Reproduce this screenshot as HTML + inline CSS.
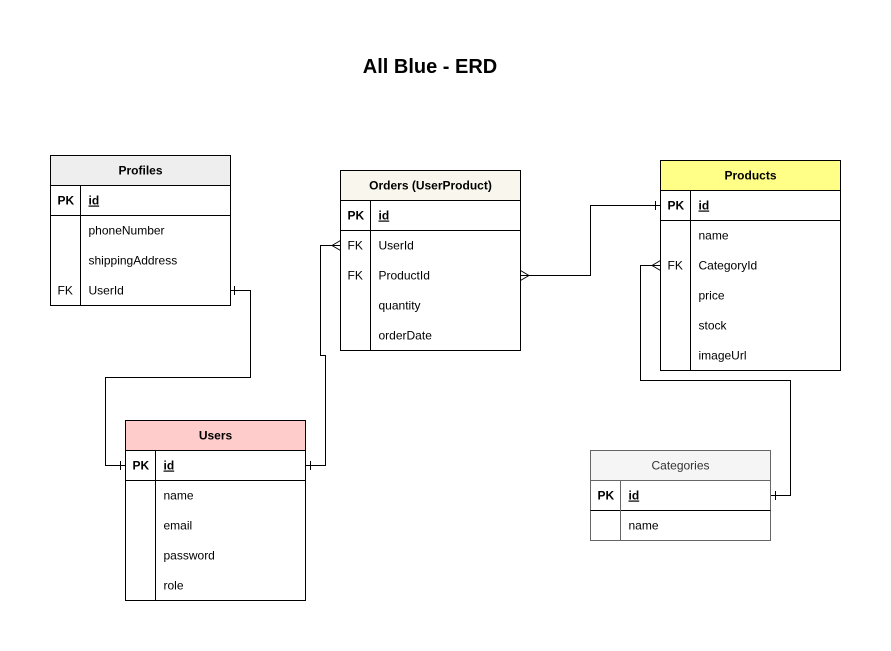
<!DOCTYPE html>
<html><head><meta charset="utf-8"><style>
html,body{margin:0;padding:0;background:#fff;}
svg{display:block;font-family:"Liberation Sans",Arial,sans-serif;}
text{font-size:12px;fill:#000;}
.b{font-weight:bold;}
</style></head><body>
<svg width="891" height="651" viewBox="0 0 891 651">
<rect width="891" height="651" fill="#fff"/>
<text x="430" y="73" text-anchor="middle" class="b" style="font-size:20px">All Blue - ERD</text>

<g stroke="#000" fill="none" stroke-width="1">
<!-- connectors -->
<polyline points="230.5,290.5 250.5,290.5 250.5,377.5 105.5,377.5 105.5,465.5 125.5,465.5"/>
<line x1="234.5" y1="286" x2="234.5" y2="295"/>
<line x1="120.5" y1="461" x2="120.5" y2="470"/>
<polyline points="305.5,465.5 325.5,465.5 325.5,355.5 320.5,355.5 320.5,245.5 340.5,245.5"/>
<line x1="310.5" y1="461" x2="310.5" y2="470"/>
<polyline points="332,245.5 340.5,240.5"/><polyline points="332,245.5 340.5,250.5"/>
<polyline points="520.5,275.5 590.5,275.5 590.5,205.5 660.5,205.5"/>
<polyline points="529,275.5 520.5,270.5"/><polyline points="529,275.5 520.5,280.5"/>
<line x1="655.5" y1="201" x2="655.5" y2="210"/>
<polyline points="660.5,265.5 640.5,265.5 640.5,380.5 790.5,380.5 790.5,495.5 770.5,495.5"/>
<polyline points="652,265.5 660.5,260.5"/><polyline points="652,265.5 660.5,270.5"/>
<line x1="775.5" y1="491" x2="775.5" y2="500"/>
</g>

<!-- Profiles -->
<g transform="translate(50.5,155.5)">
<rect width="180" height="150" fill="#fff" stroke="#000"/>
<rect width="180" height="30" fill="#eeeeee" stroke="#000"/>
<line x1="0" y1="60" x2="180" y2="60" stroke="#000"/>
<line x1="30" y1="30" x2="30" y2="150" stroke="#000"/>
<text x="90" y="19" text-anchor="middle" class="b">Profiles</text>
<text x="7" y="49" class="b">PK</text><text x="38" y="49" class="b" text-decoration="underline">id</text>
<text x="38" y="79">phoneNumber</text>
<text x="38" y="109">shippingAddress</text>
<text x="7" y="139">FK</text><text x="38" y="139">UserId</text>
</g>

<!-- Orders -->
<g transform="translate(340.5,170.5)">
<rect width="180" height="180" fill="#fff" stroke="#000"/>
<rect width="180" height="30" fill="#f9f7ed" stroke="#000"/>
<line x1="0" y1="60" x2="180" y2="60" stroke="#000"/>
<line x1="30" y1="30" x2="30" y2="180" stroke="#000"/>
<text x="90" y="19" text-anchor="middle" class="b">Orders (UserProduct)</text>
<text x="7" y="49" class="b">PK</text><text x="38" y="49" class="b" text-decoration="underline">id</text>
<text x="7" y="79">FK</text><text x="38" y="79">UserId</text>
<text x="7" y="109">FK</text><text x="38" y="109">ProductId</text>
<text x="38" y="139">quantity</text>
<text x="38" y="169">orderDate</text>
</g>

<!-- Products -->
<g transform="translate(660.5,160.5)">
<rect width="180" height="210" fill="#fff" stroke="#000"/>
<rect width="180" height="30" fill="#ffff88" stroke="#000"/>
<line x1="0" y1="60" x2="180" y2="60" stroke="#000"/>
<line x1="30" y1="30" x2="30" y2="210" stroke="#000"/>
<text x="90" y="19" text-anchor="middle" class="b">Products</text>
<text x="7" y="49" class="b">PK</text><text x="38" y="49" class="b" text-decoration="underline">id</text>
<text x="38" y="79">name</text>
<text x="7" y="109">FK</text><text x="38" y="109">CategoryId</text>
<text x="38" y="139">price</text>
<text x="38" y="169">stock</text>
<text x="38" y="199">imageUrl</text>
</g>

<!-- Users -->
<g transform="translate(125.5,420.5)">
<rect width="180" height="180" fill="#fff" stroke="#000"/>
<rect width="180" height="30" fill="#ffcccc" stroke="#000"/>
<line x1="0" y1="60" x2="180" y2="60" stroke="#000"/>
<line x1="30" y1="30" x2="30" y2="180" stroke="#000"/>
<text x="90" y="19" text-anchor="middle" class="b">Users</text>
<text x="7" y="49" class="b">PK</text><text x="38" y="49" class="b" text-decoration="underline">id</text>
<text x="38" y="79">name</text>
<text x="38" y="109">email</text>
<text x="38" y="139">password</text>
<text x="38" y="169">role</text>
</g>

<!-- Categories -->
<g transform="translate(590.5,450.5)">
<rect width="180" height="90" fill="#fff" stroke="#666"/>
<rect width="180" height="30" fill="#f5f5f5" stroke="#666"/>
<line x1="0" y1="60" x2="180" y2="60" stroke="#000"/>
<line x1="30" y1="30" x2="30" y2="90" stroke="#666"/>
<text x="90" y="19" text-anchor="middle" style="fill:#333">Categories</text>
<text x="7" y="49" class="b">PK</text><text x="38" y="49" class="b" text-decoration="underline">id</text>
<text x="38" y="79">name</text>
</g>
</svg>
</body></html>
